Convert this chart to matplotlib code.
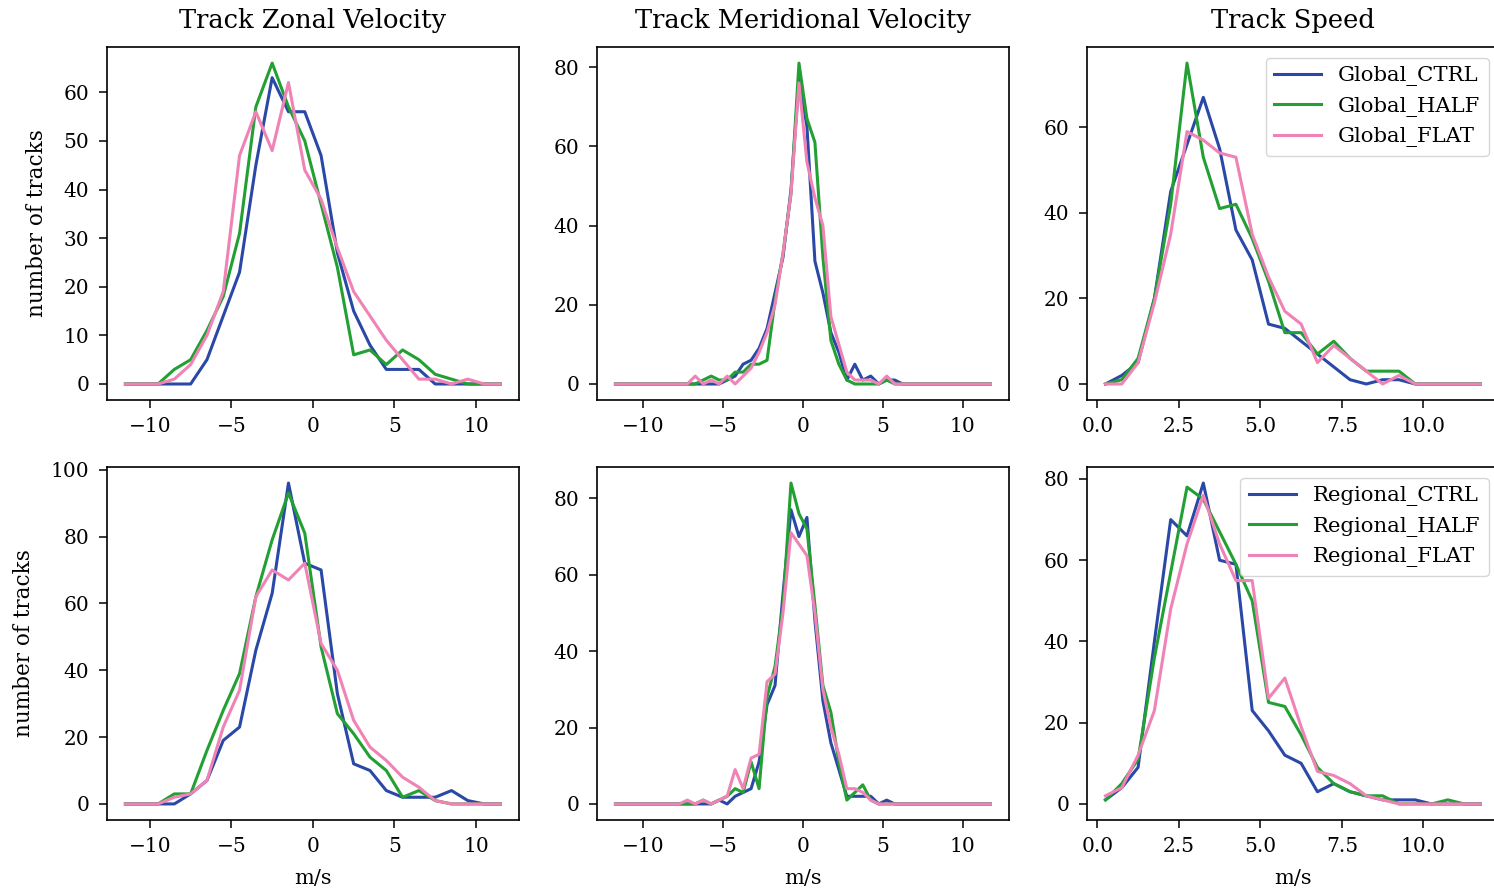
import numpy as np
import matplotlib
matplotlib.use('Agg')
import matplotlib.pyplot as plt
from matplotlib.ticker import MultipleLocator

# bin centres (m/s)
vel_bins = np.arange(-11.5, 12.0, 1.0)        # zonal velocity, 1 m/s bins
mer_bins = np.arange(-11.75, 12.0, 0.5)       # meridional velocity, 0.5 m/s bins
speed_bins = np.arange(0.25, 12.0, 0.5)       # track speed, 0.5 m/s bins

# Global runs: number of tracks per bin
glob_u_ctrl = [0, 0, 0, 0, 0, 5, 14, 23, 45, 63, 56, 56, 47, 27, 15, 8, 3, 3, 3, 0, 0, 0, 0, 0]
glob_u_half = [0, 0, 0, 3, 5, 11, 18, 31, 57, 66, 57, 50, 37, 24, 6, 7, 4, 7, 5, 2, 1, 0, 0, 0]
glob_u_flat = [0, 0, 0, 1, 4, 10, 19, 47, 56, 48, 62, 44, 38, 28, 19, 14, 9, 5, 1, 1, 0, 1, 0, 0]

glob_v_ctrl = [0] * 14 + [1, 2, 5, 6, 9, 14, 23, 32, 49, 77, 65, 31, 23, 13, 8, 1, 5, 1, 2, 0, 1, 1] + [0] * 12
glob_v_half = [0] * 11 + [1, 2, 1, 1, 3, 3, 5, 5, 6, 21, 33, 48, 81, 67, 61, 32, 11, 5, 1, 0, 0, 0, 0, 1, 0] + [0] * 12
glob_v_flat = [0] * 10 + [2, 0, 1, 0, 2, 0, 2, 4, 8, 13, 20, 33, 48, 76, 56, 47, 40, 17, 10, 3, 1, 1, 1, 0, 2, 0] + [0] * 12

glob_s_ctrl = [0, 2, 5, 20, 45, 56, 67, 55, 36, 29, 14, 13, 10, 7, 4, 1, 0, 1, 1, 0, 0, 0, 0, 0]
glob_s_half = [0, 1, 6, 20, 42, 75, 53, 41, 42, 34, 24, 12, 12, 7, 10, 6, 3, 3, 3, 0, 0, 0, 0, 0]
glob_s_flat = [0, 0, 5, 19, 35, 59, 57, 54, 53, 35, 25, 17, 14, 5, 9, 6, 3, 0, 2, 0, 0, 0, 0, 0]

# Regional runs
reg_u_ctrl = [0, 0, 0, 0, 3, 7, 19, 23, 46, 63, 96, 72, 70, 33, 12, 10, 4, 2, 2, 2, 4, 1, 0, 0]
reg_u_half = [0, 0, 0, 3, 3, 16, 28, 39, 62, 79, 93, 81, 47, 27, 21, 14, 10, 2, 4, 1, 0, 0, 0, 0]
reg_u_flat = [0, 0, 0, 2, 3, 7, 23, 34, 62, 70, 67, 72, 48, 40, 25, 17, 13, 8, 5, 1, 0, 0, 0, 0]

reg_v_ctrl = [0] * 13 + [1, 0, 2, 3, 4, 11, 26, 31, 55, 77, 70, 75, 48, 27, 16, 9, 2, 2, 2, 2, 0, 1] + [0] * 13
reg_v_half = [0] * 11 + [1, 0, 1, 2, 4, 3, 11, 4, 28, 36, 52, 84, 76, 72, 52, 31, 24, 11, 1, 3, 5, 1, 0, 0] + [0] * 13
reg_v_flat = [0] * 9 + [1, 0, 1, 0, 1, 2, 9, 4, 12, 13, 32, 34, 50, 71, 68, 65, 50, 30, 20, 13, 4, 4, 3, 1, 0, 0] + [0] * 13

reg_s_ctrl = [1, 4, 9, 40, 70, 66, 79, 60, 59, 23, 18, 12, 10, 3, 5, 3, 2, 1, 1, 1, 0, 0, 0, 0]
reg_s_half = [1, 5, 11, 36, 57, 78, 75, 67, 59, 50, 25, 24, 17, 9, 5, 3, 2, 2, 0, 0, 0, 1, 0, 0]
reg_s_flat = [2, 4, 12, 23, 48, 64, 76, 64, 55, 55, 26, 31, 19, 8, 7, 5, 2, 1, 0, 0, 0, 0, 0, 0]

titles = ['Track Zonal Velocity', 'Track Meridional Velocity', 'Track Speed']
exp_names = ['CTRL', 'HALF', 'FLAT']
colors = ['#2a48a6', '#22a033', '#f083b6']
x_steps = [5, 5, 2.5]
y_steps = [[10, 20, 20], [20, 20, 20]]

plt.rcParams['font.family'] = 'DejaVu Serif'

fig = plt.figure(figsize=(14.94, 8.88), dpi=100)
lefts = [0.0714, 0.3994, 0.7274]
bottoms = [0.5495, 0.0766]
w, h = 0.2761, 0.3975

rows = [
    ('Global', [(vel_bins, [glob_u_ctrl, glob_u_half, glob_u_flat]),
                (mer_bins, [glob_v_ctrl, glob_v_half, glob_v_flat]),
                (speed_bins, [glob_s_ctrl, glob_s_half, glob_s_flat])]),
    ('Regional', [(vel_bins, [reg_u_ctrl, reg_u_half, reg_u_flat]),
                  (mer_bins, [reg_v_ctrl, reg_v_half, reg_v_flat]),
                  (speed_bins, [reg_s_ctrl, reg_s_half, reg_s_flat])]),
]

for r, (model, panels) in enumerate(rows):
    for c, (x, series) in enumerate(panels):
        ax = fig.add_axes([lefts[c], bottoms[r], w, h])
        for y, name, col in zip(series, exp_names, colors):
            ax.plot(x, y, color=col, lw=2.2, label=model + '_' + name)
        ax.xaxis.set_major_locator(MultipleLocator(x_steps[c]))
        ax.yaxis.set_major_locator(MultipleLocator(y_steps[r][c]))
        ax.tick_params(direction='out', length=5.5, width=1.1, pad=7, labelsize=14.5)
        for sp in ax.spines.values():
            sp.set_linewidth(1.2)
        if r == 0:
            ax.set_title(titles[c], fontsize=18.5, pad=14)
        else:
            ax.set_xlabel('m/s', fontsize=15, labelpad=9)
        if c == 0:
            ax.set_ylabel('number of tracks', fontsize=15.5, labelpad=11)
        if c == 2:
            ax.legend(loc='upper right', fontsize=15.3, handlelength=2.2,
                      labelspacing=0.5)

fig.savefig('out.png', dpi=100)
